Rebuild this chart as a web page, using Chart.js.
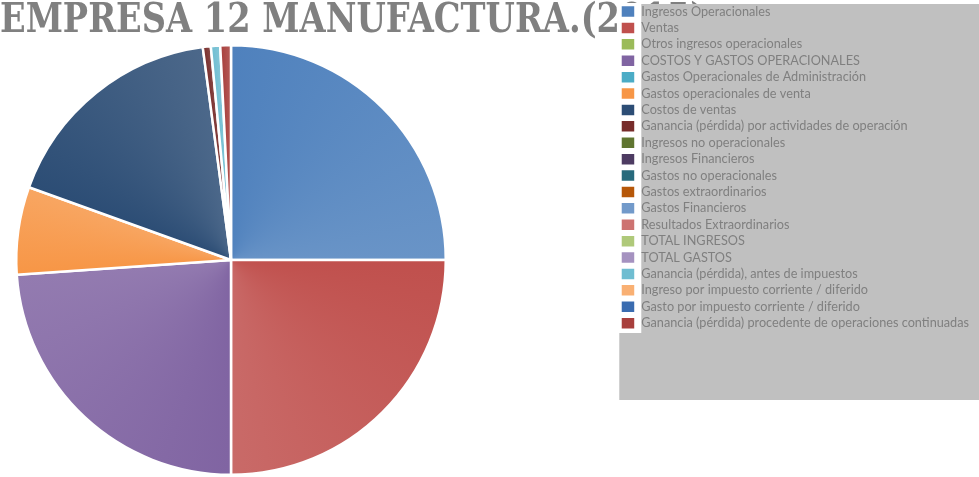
<!DOCTYPE html>
<html lang="es">
<head>
<meta charset="utf-8">
<title>EMPRESA 12 MANUFACTURA.(2015)</title>
<script src="https://cdn.jsdelivr.net/npm/chart.js@4.4.1/dist/chart.umd.min.js"></script>
<style>
  html, body { margin: 0; padding: 0; background: #ffffff; }
  .grafico { position: relative; width: 979px; height: 477px; overflow: hidden; }
</style>
</head>
<body>
<div class="grafico"><canvas id="graficoEmpresa"></canvas></div>
<script>
// === DATOS =================================================================
const titulo = 'EMPRESA 12 MANUFACTURA.(2015)';

const categorias = [
  'Ingresos Operacionales',
  'Ventas',
  'Otros ingresos operacionales',
  'COSTOS Y GASTOS OPERACIONALES',
  'Gastos Operacionales de Administración',
  'Gastos operacionales de venta',
  'Costos de ventas',
  'Ganancia (pérdida) por actividades de operación',
  'Ingresos no operacionales',
  'Ingresos Financieros',
  'Gastos no operacionales',
  'Gastos extraordinarios',
  'Gastos Financieros',
  'Resultados Extraordinarios',
  'TOTAL INGRESOS',
  'TOTAL GASTOS',
  'Ganancia (pérdida), antes de impuestos',
  'Ingreso por impuesto corriente / diferido',
  'Gasto por impuesto corriente / diferido',
  'Ganancia (pérdida) procedente de operaciones continuadas'
];

// participación (%) de cada partida
const valores = [25.0, 25.0, 0, 23.9, 0, 6.6, 17.4, 0.6, 0, 0, 0, 0, 0, 0, 0, 0, 0.7, 0, 0, 0.8];

const colores = [
  '#4f81bd', '#c0504d', '#9bbb59', '#8064a2', '#4bacc6',
  '#f79646', '#2c4d75', '#772c2a', '#5f7530', '#4d3b62',
  '#276a7c', '#b65708', '#729aca', '#cd7371', '#afc97a',
  '#a592c0', '#6fbdd1', '#f9b073', '#3a6cb0', '#a83f3c'
];

// === HELPERS ===============================================================
function aclara(hex, t) {
  const n = parseInt(hex.slice(1), 16);
  const c = [n >> 16, (n >> 8) & 255, n & 255].map(v => Math.round(v + (255 - v) * t));
  return `rgb(${c[0]},${c[1]},${c[2]})`;
}

// degradado cónico: cada porción se aclara hacia su borde final
function colorPorcion(ctx) {
  const i = ctx.dataIndex;
  const base = colores[i];
  const area = ctx.chart.chartArea;
  if (!area || ctx.type !== 'data') return base;
  const total = valores.reduce((a, b) => a + b, 0);
  const antes = valores.slice(0, i).reduce((a, b) => a + b, 0);
  const tramo = valores[i] / total;
  if (!tramo) return base;
  const cx = (area.left + area.right) / 2;
  const cy = (area.top + area.bottom) / 2;
  const g = ctx.chart.ctx.createConicGradient(-Math.PI / 2 + antes / total * 2 * Math.PI, cx, cy);
  g.addColorStop(0, base);
  g.addColorStop(tramo, aclara(base, 0.15));
  g.addColorStop(1, aclara(base, 0.15));
  return g;
}

// título + caja gris de la leyenda, el pastel en un cuadrado a la izquierda
const fondoEmpresa = {
  id: 'fondoEmpresa',
  afterLayout(chart) {
    const a = chart.chartArea;
    a.left = 15; a.right = 447; a.top = 44; a.bottom = 476;
    a.width = a.right - a.left;
    a.height = a.bottom - a.top;
  },
  beforeDraw(chart) {
    const { ctx, legend } = chart;
    ctx.save();
    ctx.font = 'bold 41px "DejaVu Serif"';
    ctx.fillStyle = '#808080';
    ctx.textBaseline = 'alphabetic';
    const ancho = ctx.measureText('EMPRESA 12 MANUFACTURA.(2').width;
    ctx.translate(0, 32);
    ctx.scale(620 / ancho, 1);
    ctx.fillText(titulo, 0, 0);
    ctx.restore();

    ctx.save();
    ctx.fillStyle = '#c0c0c0';
    ctx.fillRect(legend.left + 2, 4, chart.width - legend.left - 2, 396);
    ctx.fillStyle = '#ffffff';
    ctx.fillRect(legend.left + 1, 3, 23, 330);
    ctx.restore();
  }
};

// === GRAFICO ===============================================================
const elGrafico = document.getElementById('graficoEmpresa');

const graficoEmpresa = new Chart(elGrafico, {
  type: 'pie',
  data: {
    labels: categorias,
    datasets: [{
      data: valores,
      backgroundColor: colorPorcion,
      borderColor: '#ffffff',
      borderWidth: 2.5,
      hoverOffset: 0
    }]
  },
  options: {
    responsive: true,
    maintainAspectRatio: false,
    animation: false,
    layout: { padding: { top: 1.5 } },
    plugins: {
      tooltip: { enabled: false },
      legend: {
        position: 'right',
        align: 'start',
        labels: {
          boxWidth: 14,
          boxHeight: 12,
          padding: 3.7,
          color: '#7f7f7f',
          font: { family: 'Lato', size: 12.7 },
          generateLabels(chart) {
            const itens = Chart.overrides.doughnut.plugins.legend.labels.generateLabels(chart);
            return itens.map((it, i) => Object.assign(it, {
              fillStyle: colores[i],
              strokeStyle: '#ffffff',
              lineWidth: 1.5
            }));
          }
        }
      }
    }
  },
  plugins: [fondoEmpresa]
});
</script>
</body>
</html>
